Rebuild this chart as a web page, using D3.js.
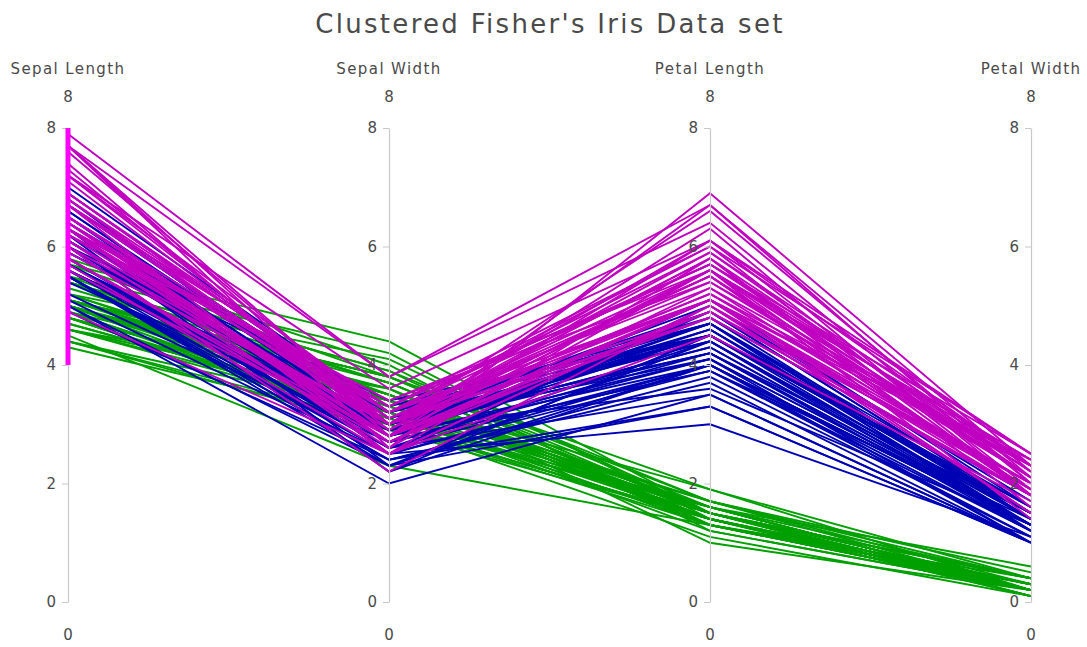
<!DOCTYPE html>
<html>
<head>
<meta charset="utf-8">
<script src="https://cdn.jsdelivr.net/npm/d3@7"></script>
<style>
  html, body { margin: 0; padding: 0; background: #fff; }
  svg { display: block; }
  svg text { font-family: "DejaVu Sans", sans-serif; }
</style>
</head>
<body>
<svg id="chart" width="1087" height="647"></svg>
<script>
// Fisher's iris measurements (cm), one entry per flower
const dimensions = ["Sepal Length", "Sepal Width", "Petal Length", "Petal Width"];
const tickValues = [0, 2, 4, 6, 8];
const axisRange = [0, 8];
const sepalLengthConstraint = [4, 8];

const sepalLength = [
  5.1,4.9,4.7,4.6,5.0,5.4,4.6,5.0,4.4,4.9,5.4,4.8,4.8,4.3,5.8,5.7,5.4,5.1,5.7,5.1,5.4,5.1,4.6,5.1,4.8,
  5.0,5.0,5.2,5.2,4.7,4.8,5.4,5.2,5.5,4.9,5.0,5.5,4.9,4.4,5.1,5.0,4.5,4.4,5.0,5.1,4.8,5.1,4.6,5.3,5.0,
  7.0,6.4,6.9,5.5,6.5,5.7,6.3,4.9,6.6,5.2,5.0,5.9,6.0,6.1,5.6,6.7,5.6,5.8,6.2,5.6,5.9,6.1,6.3,6.1,6.4,
  6.6,6.8,6.7,6.0,5.7,5.5,5.5,5.8,6.0,5.4,6.0,6.7,6.3,5.6,5.5,5.5,6.1,5.8,5.0,5.6,5.7,5.7,6.2,5.1,5.7,
  6.3,5.8,7.1,6.3,6.5,7.6,4.9,7.3,6.7,7.2,6.5,6.4,6.8,5.7,5.8,6.4,6.5,7.7,7.7,6.0,6.9,5.6,7.7,6.3,6.7,
  7.2,6.2,6.1,6.4,7.2,7.4,7.9,6.4,6.3,6.1,7.7,6.3,6.4,6.0,6.9,6.7,6.9,5.8,6.8,6.7,6.7,6.3,6.5,6.2,5.9
];
const sepalWidth = [
  3.5,3.0,3.2,3.1,3.6,3.9,3.4,3.4,2.9,3.1,3.7,3.4,3.0,3.0,4.0,4.4,3.9,3.5,3.8,3.8,3.4,3.7,3.6,3.3,3.4,
  3.0,3.4,3.5,3.4,3.2,3.1,3.4,4.1,4.2,3.1,3.2,3.5,3.6,3.0,3.4,3.5,2.3,3.2,3.5,3.8,3.0,3.8,3.2,3.7,3.3,
  3.2,3.2,3.1,2.3,2.8,2.8,3.3,2.4,2.9,2.7,2.0,3.0,2.2,2.9,2.9,3.1,3.0,2.7,2.2,2.5,3.2,2.8,2.5,2.8,2.9,
  3.0,2.8,3.0,2.9,2.6,2.4,2.4,2.7,2.7,3.0,3.4,3.1,2.3,3.0,2.5,2.6,3.0,2.6,2.3,2.7,3.0,2.9,2.9,2.5,2.8,
  3.3,2.7,3.0,2.9,3.0,3.0,2.5,2.9,2.5,3.6,3.2,2.7,3.0,2.5,2.8,3.2,3.0,3.8,2.6,2.2,3.2,2.8,2.8,2.7,3.3,
  3.2,2.8,3.0,2.8,3.0,2.8,3.8,2.8,2.8,2.6,3.0,3.4,3.1,3.0,3.1,3.1,3.1,2.7,3.2,3.3,3.0,2.5,3.0,3.4,3.0
];
const petalLength = [
  1.4,1.4,1.3,1.5,1.4,1.7,1.4,1.5,1.4,1.5,1.5,1.6,1.4,1.1,1.2,1.5,1.3,1.4,1.7,1.5,1.7,1.5,1.0,1.7,1.9,
  1.6,1.6,1.5,1.4,1.6,1.6,1.5,1.5,1.4,1.5,1.2,1.3,1.4,1.3,1.5,1.3,1.3,1.3,1.6,1.9,1.4,1.6,1.4,1.5,1.4,
  4.7,4.5,4.9,4.0,4.6,4.5,4.7,3.3,4.6,3.9,3.5,4.2,4.0,4.7,3.6,4.4,4.5,4.1,4.5,3.9,4.8,4.0,4.9,4.7,4.3,
  4.4,4.8,5.0,4.5,3.5,3.8,3.7,3.9,5.1,4.5,4.5,4.7,4.4,4.1,4.0,4.4,4.6,4.0,3.3,4.2,4.2,4.2,4.3,3.0,4.1,
  6.0,5.1,5.9,5.6,5.8,6.6,4.5,6.3,5.8,6.1,5.1,5.3,5.5,5.0,5.1,5.3,5.5,6.7,6.9,5.0,5.7,4.9,6.7,4.9,5.7,
  6.0,4.8,4.9,5.6,5.8,6.1,6.4,5.6,5.1,5.6,6.1,5.6,5.5,4.8,5.4,5.6,5.1,5.1,5.9,5.7,5.2,5.0,5.2,5.4,5.1
];
const petalWidth = [
  0.2,0.2,0.2,0.2,0.2,0.4,0.3,0.2,0.2,0.1,0.2,0.2,0.1,0.1,0.2,0.4,0.4,0.3,0.3,0.3,0.2,0.4,0.2,0.5,0.2,
  0.2,0.4,0.2,0.2,0.2,0.2,0.4,0.1,0.2,0.2,0.2,0.2,0.1,0.2,0.2,0.3,0.3,0.2,0.6,0.4,0.3,0.2,0.2,0.2,0.2,
  1.4,1.5,1.5,1.3,1.5,1.3,1.6,1.0,1.3,1.4,1.0,1.5,1.0,1.4,1.3,1.4,1.5,1.0,1.5,1.1,1.8,1.3,1.5,1.2,1.3,
  1.4,1.4,1.7,1.5,1.0,1.1,1.0,1.2,1.6,1.5,1.6,1.5,1.3,1.3,1.3,1.2,1.4,1.2,1.0,1.3,1.2,1.3,1.3,1.1,1.3,
  2.5,1.9,2.1,1.8,2.2,2.1,1.7,1.8,1.8,2.5,2.0,1.9,2.1,2.0,2.4,2.3,1.8,2.2,2.3,1.5,2.3,2.0,2.0,1.8,2.1,
  1.8,1.8,1.8,2.1,1.6,1.9,2.0,2.2,1.5,1.4,2.3,2.4,1.8,1.8,2.1,2.4,2.3,1.9,2.3,2.5,2.3,1.9,2.0,2.3,1.8
];
// cluster assignment per flower (1, 2, 3)
const cluster = [
  ...Array(50).fill(1), ...Array(50).fill(2), ...Array(50).fill(3)
];
const clusterColors = ["#00a000", "#0000b4", "#c000c0"];

const columns = [sepalLength, sepalWidth, petalLength, petalWidth];
const rows = cluster.map((c, i) => ({ cluster: c, values: columns.map(col => col[i]) }));

const svg = d3.select("#chart");
const textColor = "#4a4a4a";
const axisColor = "#c8c8c8";
const fontFamily = "DejaVu Sans";

const x = d3.scalePoint().domain(dimensions).range([68, 1031]);
const y = d3.scaleLinear().domain(axisRange).range([602, 128]);
const color = d3.scaleOrdinal().domain([1, 2, 3]).range(clusterColors);

// title
svg.append("text")
  .attr("x", 550).attr("y", 33)
  .attr("text-anchor", "middle")
  .attr("fill", textColor)
  .attr("font-family", fontFamily)
  .attr("font-size", 26)
  .attr("letter-spacing", 2.3)
  .text("Clustered Fisher's Iris Data set");

// polylines, one per flower
const line = d3.line()
  .x((v, j) => x(dimensions[j]))
  .y(v => y(v));

svg.append("g")
  .selectAll("path")
  .data(rows)
  .join("path")
  .attr("d", d => line(d.values))
  .attr("fill", "none")
  .attr("stroke", d => color(d.cluster))
  .attr("stroke-width", 1.9);

// axes
dimensions.forEach((dim, j) => {
  const g = svg.append("g").attr("transform", `translate(${x(dim)},0)`);
  const axis = d3.axisLeft(y).tickValues(tickValues).tickSize(6).tickPadding(6).tickSizeOuter(0);
  g.call(axis);
  g.attr("font-family", fontFamily).attr("font-size", 15);
  g.select(".domain").attr("stroke", axisColor).attr("stroke-width", 1.2);
  g.selectAll(".tick line").attr("stroke", axisColor);
  g.selectAll(".tick text").attr("fill", textColor);

  g.append("text")
    .attr("x", 0).attr("y", 74)
    .attr("text-anchor", "middle")
    .attr("fill", textColor)
    .attr("letter-spacing", 1.4)
    .text(dim);

  g.append("text")
    .attr("x", 0).attr("y", 102)
    .attr("text-anchor", "middle")
    .attr("fill", textColor)
    .text(axisRange[1]);

  g.append("text")
    .attr("x", 0).attr("y", 640)
    .attr("text-anchor", "middle")
    .attr("fill", textColor)
    .text(axisRange[0]);

  if (j === 0) {
    g.append("rect")
      .attr("x", -2.5)
      .attr("width", 5)
      .attr("y", y(sepalLengthConstraint[1]))
      .attr("height", y(sepalLengthConstraint[0]) - y(sepalLengthConstraint[1]))
      .attr("fill", "#ff00ff");
  }
});
</script>
</body>
</html>
